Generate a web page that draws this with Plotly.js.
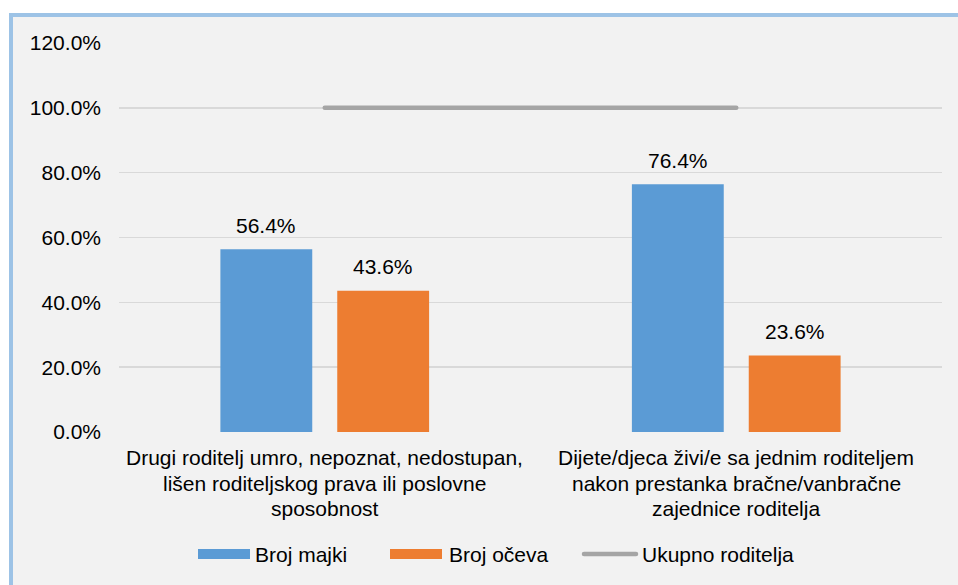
<!DOCTYPE html>
<html>
<head>
<meta charset="utf-8">
<script src="https://cdn.plot.ly/plotly-3.0.1.min.js"></script>
<style>
html,body{margin:0;padding:0;background:#ffffff;width:958px;height:585px;overflow:hidden;}
#bt{position:absolute;left:9px;top:13px;width:949px;height:4px;background:#9dc3e6;}
#bl{position:absolute;left:9px;top:13px;width:4px;height:572px;background:#9dc3e6;}
#chart{position:absolute;left:13px;top:17px;width:945px;height:568px;}
#chart .scatterlayer path.js-line{stroke-linecap:round;}
#chart .shapelayer path{stroke-linecap:round;}
</style>
</head>
<body>
<div id="bt"></div><div id="bl"></div>
<div id="chart"></div>
<script>
// ---- data ----
var categories = [
  "Drugi roditelj umro, nepoznat, nedostupan,<br>lišen roditeljskog prava ili poslovne<br>sposobnost",
  "Dijete/djeca živi/e sa jednim roditeljem<br>nakon prestanka bračne/vanbračne<br>zajednice roditelja"
];
var seriesNames = ["Broj majki", "Broj očeva", "Ukupno roditelja"];
var majke = [0.564, 0.764];
var ocevi = [0.436, 0.236];
var ukupno = [1.0, 1.0];
var yTicks = [0, 0.2, 0.4, 0.6, 0.8, 1.0, 1.2];

// ---- style ----
var BLUE = "#5b9bd5", ORANGE = "#ed7d31", GRAY = "#a5a5a5";
var FONT = "Liberation Sans, Arial, sans-serif";
var FS = 21;
var W = 945, H = 568;
var M = {l:106, r:16, t:26, b:153};
var PW = W - M.l - M.r, PH = H - M.t - M.b;
var bargap = 0.432, bargroupgap = 0.214;

// pixel (original image) -> paper coords
function px(xo){ return (xo - 13 - M.l) / PW; }
function py(yo){ return (M.t + PH - (yo - 17)) / PH; }

var traces = [
  {type:"bar", name:seriesNames[0], x:categories, y:majke, marker:{color:BLUE, line:{width:0}}, showlegend:false, hoverinfo:"skip"},
  {type:"bar", name:seriesNames[1], x:categories, y:ocevi, marker:{color:ORANGE, line:{width:0}}, showlegend:false, hoverinfo:"skip"},
  {type:"scatter", mode:"lines", name:seriesNames[2], x:categories, y:ukupno, line:{color:GRAY, width:4.5}, showlegend:false, hoverinfo:"skip"}
];

var annotations = [];
var shapes = [];
var off = (1 - bargap) / 4;
// data labels
[majke, ocevi].forEach(function(arr, s){
  arr.forEach(function(v, i){
    annotations.push({
      x: i + (s === 0 ? -off : off), xref:"x", y: v, yref:"y",
      text: (v*100).toFixed(1) + "%", showarrow:false,
      yanchor:"middle", xanchor:"center", yshift:24,
      font:{family:FONT, size:FS, color:"#000"}
    });
  });
});
// category labels (one annotation per line)
var lineY = [457, 483, 508];
categories.forEach(function(c, i){
  c.split("<br>").forEach(function(t, k){
    annotations.push({
      x: i, xref:"x", y: py(lineY[k]), yref:"paper",
      text: t, showarrow:false, xanchor:"center", yanchor:"middle",
      font:{family:FONT, size:FS, color:"#000"}
    });
  });
});
// legend
var legY = 554;
var legend = [
  {name:seriesNames[0], kind:"rect", color:BLUE, x0:198, x1:250, tx:255},
  {name:seriesNames[1], kind:"rect", color:ORANGE, x0:390, x1:442, tx:449},
  {name:seriesNames[2], kind:"line", color:GRAY, x0:584, x1:636, tx:642}
];
legend.forEach(function(it){
  if (it.kind === "rect") {
    shapes.push({type:"rect", xref:"paper", yref:"paper", x0:px(it.x0), x1:px(it.x1),
      y0:py(legY-5), y1:py(legY+5), fillcolor:it.color, line:{width:0}});
  } else {
    shapes.push({type:"line", xref:"paper", yref:"paper", x0:px(it.x0), x1:px(it.x1),
      y0:py(legY), y1:py(legY), line:{color:it.color, width:4.5}});
  }
  annotations.push({x:px(it.tx), xref:"paper", y:py(legY), yref:"paper", text:it.name,
    showarrow:false, xanchor:"left", yanchor:"middle", xshift:-2,
    font:{family:FONT, size:FS, color:"#000"}});
});

var layout = {
  width:W, height:H,
  margin:M,
  paper_bgcolor:"#f2f2f2", plot_bgcolor:"#f2f2f2",
  font:{family:FONT, size:FS, color:"#000"},
  barmode:"group", bargap:bargap, bargroupgap:bargroupgap,
  showlegend:false,
  xaxis:{type:"category", showticklabels:false, showgrid:false, zeroline:false, showline:false, ticks:"", fixedrange:true},
  yaxis:{range:[0,1.2], tickvals:yTicks, tickformat:".1%", showgrid:true, gridcolor:"#d9d9d9", gridwidth:1.5,
         zeroline:false, showline:false, ticks:"", ticklabelstandoff:17,
         tickfont:{family:FONT, size:FS, color:"#000"}, fixedrange:true},
  annotations:annotations,
  shapes:shapes,
  hovermode:false
};

Plotly.newPlot("chart", traces, layout, {displayModeBar:false, staticPlot:true});
</script>
</body>
</html>
